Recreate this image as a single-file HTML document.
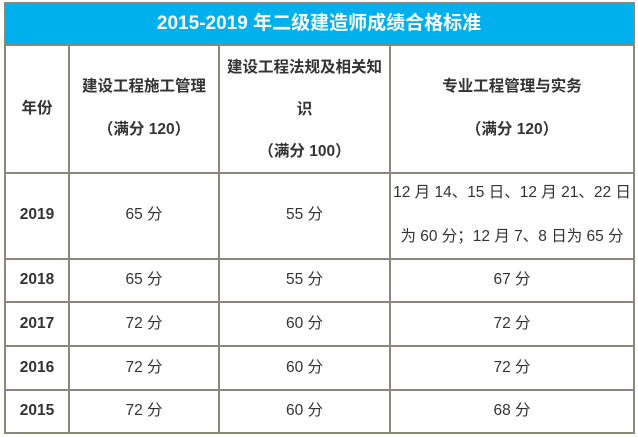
<!DOCTYPE html>
<html><head><meta charset="utf-8"><style>
body{margin:0;width:638px;height:437px;background:#fff;position:relative;overflow:hidden;font-family:"Liberation Sans","Noto Sans CJK SC",sans-serif;color:#333;}
.h{position:absolute;height:2px;background:#8a877c;}
.v{position:absolute;width:2px;background:#8a877c;}
.t{position:absolute;text-align:center;font-size:15.5px;line-height:20px;transform:translateY(-50%);white-space:nowrap;}
.b{font-weight:bold;}
</style></head><body>
<div style="position:absolute;left:5px;top:3px;width:628px;height:41px;background:#00b0ec;"></div>
<div class="t b" style="left:5px;width:628px;top:24px;color:#fff;font-size:19px;">2015-2019 年二级建造师成绩合格标准</div>
<div class="h" style="left:4px;width:631px;top:2px;"></div>
<div class="h" style="left:4px;width:631px;top:44px;"></div>
<div class="h" style="left:4px;width:631px;top:172px;"></div>
<div class="h" style="left:4px;width:631px;top:258px;"></div>
<div class="h" style="left:4px;width:631px;top:301px;"></div>
<div class="h" style="left:4px;width:631px;top:345px;"></div>
<div class="h" style="left:4px;width:631px;top:389px;"></div>
<div class="h" style="left:4px;width:631px;top:432px;"></div>
<div class="v" style="left:4px;top:2px;height:432px;"></div>
<div class="v" style="left:633px;top:2px;height:432px;"></div>
<div class="v" style="left:68px;top:44px;height:390px;"></div>
<div class="v" style="left:218px;top:44px;height:390px;"></div>
<div class="v" style="left:389px;top:44px;height:390px;"></div>

<div class="t b" style="left:6px;width:62px;top:109px;">年份</div>
<div class="t b" style="left:70px;width:148px;top:87px;">建设工程施工管理</div>
<div class="t b" style="left:70px;width:148px;top:130px;">（满分 120）</div>
<div class="t b" style="left:220px;width:169px;top:68px;">建设工程法规及相关知</div>
<div class="t b" style="left:220px;width:169px;top:110px;">识</div>
<div class="t b" style="left:220px;width:169px;top:152px;">（满分 100）</div>
<div class="t b" style="left:391px;width:242px;top:87px;">专业工程管理与实务</div>
<div class="t b" style="left:391px;width:242px;top:130px;">（满分 120）</div>

<div class="t b" style="left:6px;width:62px;top:215px;">2019</div>
<div class="t" style="left:70px;width:148px;top:215px;">65 分</div>
<div class="t" style="left:220px;width:169px;top:215px;">55 分</div>
<div class="t" style="left:391px;width:242px;top:193px;">12 月 14、15 日、12 月 21、22 日</div>
<div class="t" style="left:391px;width:242px;top:237px;">为 60 分；12 月 7、8 日为 65 分</div>

<div class="t b" style="left:6px;width:62px;top:280px;">2018</div>
<div class="t" style="left:70px;width:148px;top:280px;">65 分</div>
<div class="t" style="left:220px;width:169px;top:280px;">55 分</div>
<div class="t" style="left:391px;width:242px;top:280px;">67 分</div>

<div class="t b" style="left:6px;width:62px;top:324px;">2017</div>
<div class="t" style="left:70px;width:148px;top:324px;">72 分</div>
<div class="t" style="left:220px;width:169px;top:324px;">60 分</div>
<div class="t" style="left:391px;width:242px;top:324px;">72 分</div>

<div class="t b" style="left:6px;width:62px;top:368px;">2016</div>
<div class="t" style="left:70px;width:148px;top:368px;">72 分</div>
<div class="t" style="left:220px;width:169px;top:368px;">60 分</div>
<div class="t" style="left:391px;width:242px;top:368px;">72 分</div>

<div class="t b" style="left:6px;width:62px;top:411px;">2015</div>
<div class="t" style="left:70px;width:148px;top:411px;">72 分</div>
<div class="t" style="left:220px;width:169px;top:411px;">60 分</div>
<div class="t" style="left:391px;width:242px;top:411px;">68 分</div>
</body></html>
